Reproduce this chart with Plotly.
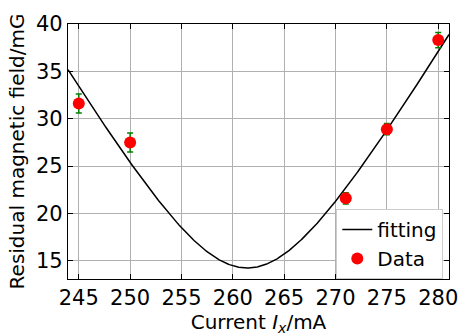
import numpy as np
import plotly.graph_objects as go

# Measured data
current_mA = [245, 250, 271, 275, 280]
field_mG = [31.6, 27.5, 21.6, 28.9, 38.3]
field_err = [1.0, 1.0, 0.6, 0.6, 0.8]

# Fit parameters: B = sqrt((a*(I - I0))^2 + B0^2)
fit_a = 1.8425
fit_I0 = 261.41
fit_B0 = 14.25
fit_x = np.linspace(243.95, 281.05, 400)
fit_y = np.sqrt((fit_a * (fit_x - fit_I0)) ** 2 + fit_B0 ** 2)

x_ticks = [245, 250, 255, 260, 265, 270, 275, 280]
y_ticks = [15, 20, 25, 30, 35, 40]

FONT = "DejaVu Sans"
FS = 20
fig = go.Figure()
fig.add_trace(go.Scatter(x=fit_x, y=fit_y, mode="lines", name="fitting",
                         line=dict(color="black", width=1.5)))
fig.add_trace(go.Scatter(x=current_mA, y=field_mG, mode="markers", name="Data",
                         marker=dict(color="red", size=12),
                         error_y=dict(type="data", array=field_err, color="green",
                                      thickness=1.5, width=3)))

axis_common = dict(showgrid=True, gridcolor="#b0b0b0", gridwidth=1,
                   showline=True, linecolor="black", linewidth=1.2, mirror="ticks",
                   ticks="inside", ticklen=5, tickcolor="black", zeroline=False,
                   tickfont=dict(family=FONT, size=21, color="black"))
fig.update_xaxes(range=[243.95, 281.05], tickvals=x_ticks,
                 title=dict(text="Current <i>I<sub>x</sub></i>/mA", standoff=0,
                            font=dict(family=FONT, size=FS, color="black")),
                 **axis_common)
fig.update_yaxes(range=[13.09, 40], tickvals=y_ticks,
                 title=dict(text="Residual magnetic field/mG", standoff=5,
                            font=dict(family=FONT, size=FS, color="black")),
                 **axis_common)
fig.update_layout(width=470, height=336, margin=dict(l=68, r=13, t=14, b=48),
                  plot_bgcolor="white", paper_bgcolor="white",
                  font=dict(family=FONT, size=FS, color="black"),
                  legend=dict(x=0.985, y=0.0, xanchor="right", yanchor="bottom",
                              bgcolor="white", bordercolor="#cccccc", borderwidth=1,
                              font=dict(family=FONT, size=FS), itemwidth=30,
                              tracegroupgap=0),
                  showlegend=True)
fig.write_html("out.html")
